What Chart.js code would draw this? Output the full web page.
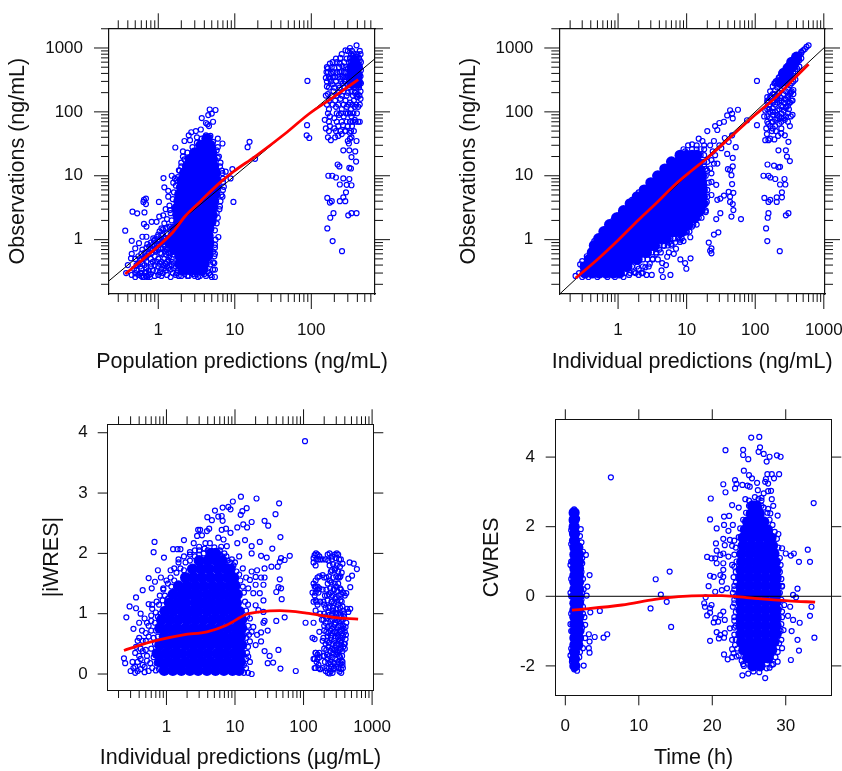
<!DOCTYPE html>
<html>
<head>
<meta charset="utf-8">
<title>Goodness of fit</title>
<script src="https://cdn.jsdelivr.net/npm/chart.js@4"></script>
<style>
  html, body { margin: 0; padding: 0; background: #fff; }
  #page { position: relative; width: 842px; height: 771px; overflow: hidden; }
  canvas { position: absolute; }
</style>
</head>
<body>
<div id="page">
  <canvas id="obsPop" width="421" height="385" style="left:0;top:0"></canvas>
  <canvas id="obsInd" width="421" height="385" style="left:421px;top:0"></canvas>
  <canvas id="iwres" width="421" height="386" style="left:0;top:385px"></canvas>
  <canvas id="cwres" width="421" height="386" style="left:421px;top:385px"></canvas>
</div>
<script>
// flat x,y lists. The *Core lists stand in for the parts
// where the circles overlap into solid blue, they are drawn as larger filled dots.
const logMajorPred = [1, 10, 100, 1000];
const logMinorPred = [0.2,0.3,0.4,0.5,0.6,0.7,0.8,0.9,2,3,4,5,6,7,8,9,20,30,40,50,60,70,80,90,200,300,400,500,600,700,800,900];
const logMajorObs = [1, 10, 100, 1000];
const logMinorObs = [0.2,0.3,0.4,0.5,0.6,0.7,0.8,0.9,2,3,4,5,6,7,8,9,20,30,40,50,60,70,80,90,200,300,400,500,600,700,800,900,2000];
const iwresTicks = [0, 1, 2, 3, 4];
const cwresTicks = [-2, 0, 2, 4];
const timeTicks = [0, 10, 20, 30];

const popCore = [
2.1,.34,2.6,.34,3.2,.34,3.8,.34,
1.9,.42,2.3,.42,2.8,.42,3.5,.42,4,.42, 1.9,.55,2.3,.55,2.8,.55,3.5,.55,4.4,.55,
1.6,.7,2,.7,2.4,.7,3,.7,3.7,.7,4.5,.7, 1.4,.9,1.75,.9,2.2,.9,2.7,.9,3.3,.9,4.1,.9,4.6,.9,
1.55,1.15,1.9,1.15,2.4,1.15,3,1.15,3.7,1.15,4.5,1.15, 1.65,1.5,2,1.5,2.5,1.5,3.1,1.5,3.8,1.5,4.6,1.5,
1.85,1.9,2.3,1.9,2.8,1.9,3.5,1.9,4.3,1.9,4.9,1.9, 1.8,2.4,2.2,2.4,2.75,2.4,3.4,2.4,4.2,2.4,5.1,2.4,
1.75,3.1,2.15,3.1,2.7,3.1,3.3,3.1,4.1,3.1,5.1,3.1, 1.85,4,2.3,4,2.8,4,3.5,4,4.3,4,5.3,4,
1.9,5.1,2.35,5.1,2.9,5.1,3.6,5.1,4.4,5.1,5.5,5.1, 2,6.6,2.45,6.6,3,6.6,3.7,6.6,4.6,6.6,5.7,6.6,
2.05,8.5,2.5,8.5,3.1,8.5,3.8,8.5,4.7,8.5,5.7,8.5, 2.2,11,2.7,11,3.3,11,4.1,11,5,11,5.6,11,
2.4,14,2.9,14,3.6,14,4.4,14,5.3,14, 2.6,18,3.2,18,3.9,18,4.8,18,5.1,18,
3,23,3.6,23,4.4,23,5,23, 3.6,30,4.3,30,4.8,30, 4.3,38,
340,280,400,280,340,380,400,380,340,500,400,500,370,620
];
const popPoints = [
.37,1.38,.46,2.74,.53,2.58,.66,2.67,.65,4.2,.69,4.4,.64,3.9,.69,3.6,1.02,3.9,.45,.96,.65,1.76,
1.17,9.2,1.2,6.6,1.35,5.8,1.35,4.7,1.5,10,1.65,9.1,1.57,7.8,1.73,8.5,1.86,12.2,1.25,3,1.42,2.9,1.16,2.4,1.03,2.3,.82,1.9,.7,1.6,.95,1.9,
.62,1.11,.7,1.11,.56,.88,.5,.73,.45,.6,.44,.51,.4,.4,.38,.3,
.5,.5,.6,.6,.7,.75,.8,.9,.9,1,1,1.2,1.1,1.5,1.2,1.8,.55,.42,.65,.5,.75,.6,.85,.7,.95,.85,1.05,1,1.15,1.2,1.25,1.5,1.3,2.1,
.9,.8,1,.7,1.1,.6,1.2,.8,1.3,.7,1.4,.55,1.5,.5,.7,.45,.8,.5,.9,.55,1,.5,1.1,.45,1.2,.5,1.3,.45,.6,.35,.7,.36,.8,.38,.9,.4,1,.38,1.1,.35,1.2,.36,1.3,.38,1.4,.4,1.5,.4,
.5,.3,.55,.28,.6,.27,.65,.26,.7,.27,.75,.28,.45,.28,.5,.26,.6,.3,.7,.31,.8,.29,.9,.27,1,.28,1.1,.27,1.3,.28,1.45,.26,1.55,.3,1.7,.28,2,.27,2.2,.29,2.5,.27,2.7,.3,3,.27,3.2,.29,3.5,.27,3.8,.3,4.2,.27,4.6,.3,5,.26,5.5,.26,
1.8,.33,2.2,.35,2.6,.33,3,.34,3.4,.33,3.9,.35,5.2,.34,5.4,.43,4.8,.41,5.4,.55,5.2,.65,
1.67,27.7,2.2,35,2.5,43,2.7,48,3.1,50,3.6,53,3.2,40,2.6,36,2.1,24,2.1,20,2,16,
3.7,80,4.5,89,4.7,109,5.6,107,5.2,70,4.4,64,4.2,67,4.6,60,5,94,4.8,42,5.2,34,6,38,
6.9,32,5.8,25,6,19,6.4,14,6.9,11,7.6,11.6,7.2,6.7,6.9,4.7,6.4,3.3,5.8,2.6,5.5,1.4,6.1,1.1,5.5,.83,5.5,.6,5.2,.44,5.5,.34,
5.6,1,5.5,.75,5.8,1.8,6,2.2,6.3,3,6.5,4,6.7,5,7,6,7,8,7,9,6.8,12,6.5,16,6.2,20,6,28,
1.3,.9,1.25,1.05,1.3,1.25,1.4,1.6,1.5,2,1.45,2.6,1.4,3.4,1.55,4.3,1.6,5.5,1.7,7,1.8,9.5,1.9,12,2,14,2.2,18,2.4,23,2.8,28,3.2,33,3.7,38,4.2,43,4.7,40,
.48,.35,.52,.4,.58,.48,.62,.42,.68,.55,.72,.65,.78,.7,.82,.62,.88,.95,.92,.65,.98,.95,1.02,.85,1.08,.75,1.12,.9,1.18,1.05,1.22,.65,1.28,.58,1.35,.48,.75,.33,.85,.33,.95,.32,1.05,.31,1.15,.3,1.25,.33,.58,.3,.52,.33,.68,.3,.62,.26,.72,.26,.78,.26,
.55,.55,.6,.5,.62,.7,.66,.62,.7,.55,.72,.85,.76,.78,.8,.72,.84,.82,.86,1.05,.9,.68,.94,.75,.96,1.1,1,.95,1.04,1.35,1.06,.62,1.1,1.15,1.15,.72,1.15,1.45,1.22,.95,1.25,.72,1.3,1.55,1.35,.62,1.35,1.05,1.4,.72,1.45,.62,1.5,.7,.8,.42,.85,.45,.95,.45,1.05,.42,1.15,.4,1.25,.42,1.35,.36,1.45,.34,1.5,.45,.58,.38,.66,.4,
1.6,.36,1.75,.3,1.85,.27,2.05,.31,2.35,.32,2.4,.27,2.85,.29,3.1,.32,3.3,.26,3.65,.31,4,.29,4.4,.32,4.8,.28,1.7,.38,
15.6,34,14.7,28,18.4,18.4,9.3,12.7,8.8,9.1,9.6,3.9,89,305,88,62,87,43,94,39,
167,10,188,10,210,9.4,262,9.1,314,8.9,262,25,314,25,221,15,233,14,314,13.3,330,13,385,16.7,335,19.6,375,24,
290,7.2,236,7.3,335,7.1,284,5.5,262,4.6,278,4,236,4,162,4.5,185,4,175,3.8,195,2.6,177,2.2,390,2.6,335,2.6,304,2.4,162,1.5,190,.95,252,.66,
390,1100,320,1000,280,920,360,820,210,680,290,680,390,730,175,570,235,570,310,600,430,640,165,480,200,490,255,520,300,470,345,760,415,560,
158,420,180,400,215,410,250,430,280,420,320,440,445,450,155,340,175,330,205,350,240,330,270,350,300,360,330,620,440,360,
160,250,190,270,225,260,260,280,295,270,445,280,165,190,195,210,230,200,265,210,300,200,335,210,370,200,405,190,440,210,
170,150,205,150,240,160,280,150,320,140,360,150,400,170,440,160,170,110,210,120,250,110,290,120,330,110,370,120,410,120,
150,75,175,85,200,80,230,90,265,85,300,95,335,85,370,75,410,70,155,55,175,60,200,55,225,60,260,62,300,60,340,60,
165,40,180,36,205,40,225,42,250,45,280,50,320,47,335,40,390,35,300,35,310,32,320,38,
300,900,340,900,430,900,250,800,330,800,400,800,440,800,240,700,320,700,370,700,420,700,190,600,215,600,270,600,360,600,395,600,445,600,
160,500,185,500,230,500,280,500,350,500,380,500,430,500,165,420,195,420,235,420,265,420,345,420,375,420,410,420,
170,350,190,350,225,350,255,350,285,350,320,350,385,350,420,350,160,300,180,300,210,300,245,300,275,300,310,300,350,300,395,300,430,300,
170,240,200,240,235,240,270,240,320,240,360,240,385,240,420,240,155,180,185,180,215,180,250,180,290,180,350,180,390,180,425,180,
160,130,190,130,225,130,265,130,305,130,345,130,385,130,430,130,165,95,215,95,245,95,285,95,320,95,355,95,395,95,
170,70,215,70,250,70,290,70,320,70,350,70,380,70,430,70,170,50,210,50,240,50,275,50,330,50,360,50
];
const popSmoothX = [.37,.64,1.16,1.57,2.23,3.5,6.4,9.6,18.4,48,91,175,410];
const popSmoothY = [.29,.5,.93,1.33,2.3,3.9,7.8,11.6,20,48,91,156,320];

const indCore = [
.33,.3,.42,.3,.53,.3,.67,.3,.85,.3,1.05,.3, .33,.38,.42,.38,.53,.38,.67,.38,.85,.38,1.1,.38,1.35,.38,
.38,.49,.48,.49,.6,.49,.76,.49,.96,.49,1.2,.49,1.5,.49,1.9,.49, .42,.63,.53,.63,.67,.63,.85,.63,1.1,.63,1.35,.63,1.7,.63,2.1,.63,2.6,.63,
.45,.81,.57,.81,.72,.81,.9,.81,1.15,.81,1.45,.81,1.85,.81,2.3,.81,2.9,.81,3.4,.81,
.52,1.04,.66,1.04,.83,1.04,1.05,1.04,1.3,1.04,1.65,1.04,2.1,1.04,2.65,1.04,3.3,1.04,4.2,1.04,5,1.04,
.62,1.34,.78,1.34,1,1.34,1.25,1.34,1.6,1.34,2,1.34,2.5,1.34,3.2,1.34,4,1.34,5,1.34,6,1.34,7,1.34,8.5,1.34,
.75,1.72,.95,1.72,1.2,1.72,1.5,1.72,1.9,1.72,2.4,1.72,3,1.72,3.8,1.72,4.8,1.72,6,1.72,7.2,1.72,8.8,1.72,10.5,1.72,
.95,2.2,1.2,2.2,1.5,2.2,1.9,2.2,2.4,2.2,3,2.2,3.8,2.2,4.8,2.2,6,2.2,7.6,2.2,9,2.2,11,2.2,13,2.2,
1.2,2.85,1.5,2.85,1.9,2.85,2.4,2.85,3,2.85,3.8,2.85,4.8,2.85,6,2.85,7.6,2.85,9.5,2.85,11,2.85,13,2.85,15.5,2.85,
1.5,3.65,1.9,3.65,2.4,3.65,3,3.65,3.8,3.65,4.8,3.65,6,3.65,7.6,3.65,9.5,3.65,11.5,3.65,14,3.65,17,3.65,
1.9,4.7,2.4,4.7,3,4.7,3.8,4.7,4.8,4.7,6,4.7,7.6,4.7,9.5,4.7,12,4.7,15,4.7,17,4.7, 2.4,6,3,6,3.8,6,4.8,6,6,6,7.6,6,9.5,6,12,6,15,6,17,6,
3,7.8,3.8,7.8,4.8,7.8,6,7.8,7.6,7.8,9.5,7.8,12,7.8,14,7.8,16.5,7.8, 3.8,10,4.8,10,6,10,7.6,10,9.5,10,12,10,14,10,16.5,10,
4.8,12.8,6,12.8,7.6,12.8,9.5,12.8,12,12.8,15,12.8, 6,16.5,7.6,16.5,9.5,16.5,12,16.5,14,16.5, 8,21,10,21,12,21,14,21,
230,290,270,320,260,400,300,380,300,480,340,500,340,600,380,620,400,720
];
const indPoints = [
106,305,76,74,106,62,43,106,56,108,46,94,39,88,47,79,35,70,30,67,26,60,28,52,20,50,46,43,36,39,41,34,52,28,39,22,47,19,47,14,40,12.7,43,12.3,45,10.2,46,7.4,41,5.6,48,5.4,35,4.9,31,4.4,28,4.2,43,4.7,43,3.9,47,3.6,48,2.9,45,2.3,62,2.1,31,2.6,27,2.1,29,1.3,25,1.2,21,.9,23,.73,22,.67,23,.61,
11.4,.51,8.1,.49,9.5,.43,9.9,.35,5.8,.28,4.5,.26,4.3,.33,5.2,.54,5.5,.63,4.4,.43,3.1,.28,2.6,.28,2,.28,
11.3,1.09,12,1.6,10.7,1.9,19,2.7,16,3.3,19.7,3.9,23,5,27,7.2,23,8,23,10.9,25,15.5,23,17.6,28,15.5,26,21,32,27,17.7,8.5,
20,12,18,14,22,13,16,5,14,4,15,2.5,18,3.5,24,24,30,30,22,30,25,35,18,30,
151,15,188,14.4,218,13.6,230,13.8,132,10,156,10,166,9.4,196,8.9,267,8.9,275,7.3,230,7.3,245,5.5,245,4.6,206,4.6,206,3.9,156,3.9,136,4.5,166,4.2,305,2.6,280,2.4,156,2.6,152,2.2,144,1.5,150,.95,228,.66,
320,17,290,20,280,25,218,25,305,34,270,43,156,36,140,36,148,45,165,38,190,37,215,42,240,46,175,50,200,50,145,55,155,65,175,70,135,85,140,105,160,110,180,100,210,90,240,80,270,75,300,70,320,60,330,85,350,90,310,110,280,120,250,120,
150,150,170,170,190,190,210,160,240,150,270,160,300,180,330,200,350,150,320,140,360,190,160,130,180,140,
190,280,200,300,220,340,240,400,250,430,280,480,300,530,330,440,360,570,380,520,420,680,440,780,470,870,500,920,530,960,560,1040,600,1100,
150,170,150,140,150,110,150,85,150,70,165,210,165,170,165,130,165,100,165,80,165,60,180,250,180,190,180,150,180,115,180,90,180,70,180,55,
195,280,195,220,195,170,195,130,195,100,195,75,195,60,210,310,210,240,210,180,210,140,210,105,210,80,225,350,225,270,225,200,225,150,225,110,225,85,225,65,
240,380,240,300,240,220,240,165,240,125,240,95,240,70,240,55,260,430,260,330,260,250,260,190,260,140,260,105,260,80,280,470,280,370,280,280,280,210,280,155,280,115,280,85,
300,520,300,400,300,310,300,230,300,170,300,125,300,95,320,560,320,440,320,340,320,260,320,190,320,140,340,610,340,480,340,370,340,280,340,210,340,150,
360,650,360,520,360,400,360,300,360,220,385,700,385,550,385,430,385,320,410,740,410,590,410,470,440,790,440,640,440,510,470,830,470,690,
1.25,.3,1.5,.3,1.8,.3,2.2,.3,1.6,.38,1.9,.38,2.3,.38,2.8,.38,2.3,.49,2.7,.49,3.2,.49,3.8,.49,3.1,.63,3.6,.63,4.2,.63,4,.81,4.6,.81,5.3,.81,6,.81,5.8,1.04,6.6,1.04,7.5,1.04,8.5,1.04,
10,1.34,11,1.34,12.5,1.72,14,1.72,15,2.2,16.5,2.2,17,2.85,19,2.85,19,3.65,20,4.7,20,6,21,7.8,19,10,17,12.8,19,12.8,16,16.5,18,16.5,20,16.5,16,21,18,21,12,26,14,26,16,26,18,26,
.45,.95,.65,1.45,.85,2,1.1,2.6,1.4,3.3,1.7,4.2,2.2,5.3,2.7,6.6,3.4,8.5,4.2,10.5,5.2,13,6.5,16,8,20,9.5,24,
.24,.27,.27,.3,.28,.41,.3,.46,.3,.26,.37,.26,.5,.26,.7,.26,.9,.26,1.2,.26,1.45,.28,1.7,.31,2,.35,2.3,.3,2.5,.37,2.9,.42,3.2,.5,3.6,.6,4,.7,4.7,.8,5.5,.9,6,.86,6.8,.9,8,.92,9,.95,10,1.3,
.35,.55,.42,.6,.5,.8,.55,1.1,.7,1.3,.9,2,1,2.4,1.3,3,1.6,4.2,2,5.5,3,8,3.5,10,4.5,13,6,17,7.5,21,9,26,10.5,30,12,31,14,30,17,35,15,38,
7,1.4,8,1.3,9,1.5,8,1,7,.72,6.5,.6,5,.4,12,2.1,13,2.5,14,3.3,15,4,16,5,17,6,18,7,15,9,16,10,17,11
];
const indSmoothX = [.24,.5,1,2,3.5,7,12,20,50,100,200,400,600];
const indSmoothY = [.25,.49,.98,2.05,3.6,7.5,12.2,19,46,90,170,360,555];

const iwresCore = [
.93,.06,1.24,.06,1.65,.06,2.2,.06,2.9,.06,3.9,.06,5.2,.06,6.9,.06,9.2,.06,11.5,.06,
.8,.2,1.06,.2,1.4,.2,1.9,.2,2.5,.2,3.3,.2,4.4,.2,5.9,.2,7.8,.2,10.4,.2,12,.2,
.73,.34,.97,.34,1.3,.34,1.7,.34,2.3,.34,3,.34,4,.34,5.4,.34,7.1,.34,9.5,.34,12,.34,
.8,.48,1.06,.48,1.4,.48,1.9,.48,2.5,.48,3.3,.48,4.4,.48,5.9,.48,7.8,.48,10.4,.48,12.5,.48,
.93,.62,1.24,.62,1.65,.62,2.2,.62,2.9,.62,3.9,.62,5.2,.62,6.9,.62,9.2,.62,12,.62,
.8,.76,1.06,.76,1.4,.76,1.9,.76,2.5,.76,3.3,.76,4.4,.76,5.9,.76,7.8,.76,10.4,.76,12.5,.76,
.85,.9,1.13,.9,1.5,.9,2,.9,2.65,.9,3.5,.9,4.7,.9,6.2,.9,8.3,.9,11,.9,12.5,.9,
.95,1.04,1.26,1.04,1.7,1.04,2.2,1.04,2.9,1.04,3.9,1.04,5.2,1.04,6.9,1.04,9.2,1.04,11.5,1.04,
1.1,1.18,1.45,1.18,1.9,1.18,2.6,1.18,3.4,1.18,4.5,1.18,6,1.18,8,1.18,10.5,1.18,
1.25,1.32,1.66,1.32,2.2,1.32,2.9,1.32,3.9,1.32,5.2,1.32,6.9,1.32,9.2,1.32,10.8,1.32,
1.5,1.46,2,1.46,2.65,1.46,3.5,1.46,4.7,1.46,6.2,1.46,8.3,1.46,10,1.46,
1.9,1.6,2.5,1.6,3.3,1.6,4.4,1.6,5.9,1.6,7.8,1.6,9.5,1.6, 2.4,1.74,3.2,1.74,4.2,1.74,5.6,1.74,7.4,1.74,8.5,1.74,
3,1.88,4,1.88,5.3,1.88,6.5,1.88, 4.5,2,5.2,2
];
const iwresPoints = [
105,3.86,12.2,2.94,20.6,2.91,9.3,2.86,44,2.83,8,2.77,8.6,2.73,14.8,2.75,6.6,2.76,5.1,2.71,12.8,2.7,12.1,2.64,39,2.65,6.4,2.62,5.7,2.61,3.95,2.6,4.6,2.55,6.6,2.54,17.5,2.52,27,2.54,30.5,2.46,13.2,2.48,15,2.43,10.8,2.43,4.2,2.41,2.9,2.39,3.1,2.39,6.4,2.39,7.4,2.41,8.6,2.34,2.8,2.29,3.3,2.3,3.9,2.37,5.7,2.26,6.8,2.23,46,2.27,14,2.22,1.8,2.22,.67,2.19,23,2.19,2.5,2.17,3.7,2.17,4.3,2.17,10.8,2.17,17.5,2.12,3,2.11,6.3,2.11,7.6,2.12,1.6,2.07,1.25,2.07,1.45,2.07,35,2.08,.65,2.02,17.5,2,24,1.96,63,1.96,.92,1.93,29,1.93,47,1.92,53,1.89,45,1.86,42,1.78,34,1.78,27,1.75,.75,1.72,.55,1.59,.83,1.6,.68,1.53,.61,1.42,.45,1.39,.36,1.27,.29,1.12,.55,1.16,.36,1.09,.26,.94,.33,.75,.24,.26,.25,.18,
45,1.57,43,1.44,47,1.42,48,1.24,40,1.36,26,1.22,26,1.48,18.5,1.34,23,1.34,20,1.48,24,1.6,27,1.6,20,1.61,17.5,1.7,21,1.72,16.5,1.56,15.6,1.42,20,1.14,22,1.06,26,1.03,53,.94,40,.88,107,.85,30,.72,26,.85,27,.88,24,.69,18.5,.78,21,.65,24,.54,20,.48,27,.38,32,.3,43,.4,36,.19,30,.18,46,.09,77,.05,17.5,0,16.5,.2,15.6,.29,16.5,.54,17.5,.7,16.5,.92,
.3,.05,.33,.1,.35,.02,.38,.2,.4,.3,.42,.08,.45,.15,.48,.03,.5,.4,.52,.22,.36,.45,.4,.6,.44,.72,.4,.85,.42,1,.48,.92,.5,.55,.55,.8,.6,.97,.62,1.08,.72,1.2,.8,1.3,.9,1.4,1,1.55,1.15,1.6,1.3,1.75,1.5,1.9,1.8,1.95,2.2,2.02,2.6,2.05,3,2.05,3.6,2.08,6,1.98,7.5,1.95,9,1.9,10,1.85,11.5,1.95,13,1.75,14.5,1.6,15.5,1.15,15,.7,15.5,.45,14.5,.1,15.5,.02,13.5,.02,
.32,.2,.35,.12,.38,.05,.42,.25,.45,.38,.48,.12,.52,.3,.55,.05,.58,.18,.6,.42,.62,.1,.65,.28,.68,.5,.7,.06,.72,.18,.75,.35,.78,.08,.8,.25,.55,.62,.6,.72,.65,.6,.7,.72,.75,.62,.5,.68,.45,.55,.42,.42,.38,.55,.35,.35,.52,.85,.6,.88,.68,.85,.75,.95,.82,1,.7,1.02,.62,1.15,.78,1.15,.88,1.22,.95,1.3,1.05,1.25,.9,1.42,1.05,1.5,1.18,1.45,1.3,1.55,1.15,1.72,1.4,1.68,1.6,1.75,1.8,1.72,1.5,1.85,1.9,1.85,2.2,1.88,2.6,1.95,2.2,1.98,3,1.98,3.5,2,4,2.05,5,2.1,6,2.05,6.5,1.95,7,2,7.8,1.88,8.5,1.85,9.5,1.8,10.5,1.7,11.5,1.65,12,1.55,13,1.45,13.5,1.35,14,1.2,14.5,1.05,15,.95,15.5,.8,16,.65,14.5,.6,15,.35,14.5,.25,13.5,.15,
470,1.85,540,1.83,600,1.74,510,1.63,450,1.58,480,1.44,420,1.34,450,1.03,480,1.08,
140,1.92,145,1.97,152,2,160,1.98,165,1.9,140,1.85,155,1.9,170,1.95,190,1.9,210,1.9,225,1.98,240,2,260,1.95,285,1.98,305,2,320,1.98,350,1.9,370,1.83,
160,1.6,170,1.62,190,1.64,215,1.6,240,1.55,260,1.72,290,1.75,320,1.6,345,1.62,300,1.45,140,1.5,150,1.45,170,1.42,190,1.4,220,1.3,250,1.35,280,1.4,340,1.42,380,1.35,
145,1.3,150,1.22,160,1.15,175,1.2,200,1.15,230,1.1,260,1.2,290,1.25,320,1.15,360,1.2,400,1.3,430,1.08,150,1.05,175,1,210,.95,240,.98,270,1.05,300,1,340,1.02,380,1.05,
185,.9,210,.85,235,.8,265,.9,295,.85,325,.8,355,.9,390,.95,420,.85,170,.7,200,.72,230,.68,260,.75,290,.7,320,.65,350,.72,385,.75,415,.65,
135,.6,145,.58,190,.55,220,.55,250,.6,280,.55,310,.5,340,.55,370,.6,400,.5,200,.42,230,.45,260,.42,290,.4,320,.38,350,.42,380,.45,
150,.35,160,.32,170,.28,145,.25,155,.2,165,.15,145,.1,175,.08,200,.3,225,.25,245,.2,265,.28,290,.25,320,.2,340,.28,360,.22,375,.1,
190,.1,210,.05,225,.02,240,.01,250,.05,265,.02,280,.1,300,.12,335,.04,355,.02,370,.15,
215,.1,235,.1,255,.12,275,.08,325,.1,350,.08,205,.2,230,.18,250,.16,280,.18,310,.16,345,.18,370,.2,195,.3,220,.32,240,.3,270,.34,300,.32,330,.3,365,.3,
215,.4,245,.38,275,.4,305,.36,335,.4,370,.38,400,.42,210,.5,235,.52,265,.5,295,.48,325,.5,355,.52,390,.5,195,.6,225,.62,255,.64,285,.6,315,.62,345,.6,375,.64,410,.58,
215,.7,245,.72,275,.7,305,.68,340,.7,365,.74,400,.7,200,.8,225,.78,255,.8,285,.82,315,.78,345,.8,380,.8,410,.78,195,.9,220,.92,250,.9,280,.92,310,.9,335,.88,375,.9,
200,1,230,1.02,260,1,290,1.02,320,1,350,.98,390,1,210,1.1,240,1.12,270,1.1,300,1.08,340,1.1,370,1.12,195,1.2,225,1.22,255,1.2,280,1.18,310,1.2,345,1.22,
205,1.3,235,1.32,265,1.3,295,1.28,325,1.3,355,1.32,160,1.4,215,1.4,245,1.42,275,1.4,310,1.38,350,1.4,225,1.5,255,1.52,285,1.5,320,1.5,
200,1.6,235,1.62,270,1.6,300,1.62,335,1.6,250,1.7,285,1.72,320,1.7,360,1.68,150,1.8,240,1.8,270,1.82,305,1.8,340,1.78,175,1.9,230,1.88,260,1.9,295,1.92,330,1.9,
150,.1,165,.1,140,.25,160,.25,150,.35,170,.35,140,.85,140,1.2,155,1.2,135,1.35,150,1.35,165,1.35,145,1.45,160,1.45,150,1.55
];
const iwresSmoothX = [.24,.41,.8,1.77,3.9,7.5,14.8,23,45,110,270,625];
const iwresSmoothY = [.39,.48,.57,.65,.7,.81,.99,1.03,1.05,1.01,.94,.91];

const cwresCore = [
1.2,2.4,1.2,2.2,1.2,2,1.25,1.8,1.25,1.6,1.3,1.4,1.3,1.2,1.3,1,1.3,.8,1.3,.6,1.3,.4,1.3,.2,1.3,0,1.3,-.2,1.3,-.4,1.3,-.6,1.3,-.8,1.3,-1,1.3,-1.2,1.3,-1.4,1.25,-1.6,1.25,-1.8,1.3,-2,
1.7,1.4,1.8,1.2,1.8,1,1.8,.8,1.8,.6,1.8,.4,1.8,.2,1.8,0,1.8,-.2,1.8,-.4,1.8,-.6,1.8,-.8,1.8,-1,1.8,-1.2,1.7,-1.4,
25.5,2.6,26,2.6,25.3,2.37,26.4,2.37,24.8,2.14,25.9,2.14,27,2.14,24.5,1.91,25.6,1.91,26.7,1.91,27.5,1.91,
24.2,1.68,25.3,1.68,26.4,1.68,27.5,1.68,28,1.68,24.2,1.45,25.3,1.45,26.4,1.45,27.5,1.45,28.2,1.45,
24,1.22,25.1,1.22,26.2,1.22,27.3,1.22,28.4,1.22,24,.99,25,.99,26,.99,27,.99,28,.99,28.6,.99,
23.9,.76,25,.76,26.1,.76,27.2,.76,28.3,.76,28.7,.76, 23.9,.53,25,.53,26.1,.53,27.2,.53,28.3,.53,28.7,.53,
23.9,.3,25,.3,26.1,.3,27.2,.3,28.3,.3,28.7,.3, 23.9,.07,25,.07,26.1,.07,27.2,.07,28.3,.07,28.7,.07,
23.9,-.16,25,-.16,26.1,-.16,27.2,-.16,28.3,-.16,28.7,-.16, 23.9,-.39,25,-.39,26.1,-.39,27.2,-.39,28.3,-.39,28.7,-.39,
23.9,-.62,25,-.62,26.1,-.62,27.2,-.62,28.3,-.62,28.7,-.62, 23.9,-.85,25,-.85,26.1,-.85,27.2,-.85,28.3,-.85,28.7,-.85,
23.9,-1.08,25,-1.08,26.1,-1.08,27.2,-1.08,28.3,-1.08,28.7,-1.08, 24,-1.31,25.1,-1.31,26.2,-1.31,27.3,-1.31,28.4,-1.31,
24.3,-1.54,25.4,-1.54,26.5,-1.54,27.6,-1.54,28.1,-1.54, 24.8,-1.77,25.9,-1.77,27,-1.77,27.6,-1.77, 25.5,-2,26.5,-2
];
const cwresPoints = [
6.2,3.42,33.8,2.68,25.3,4.56,26.4,4.58,26.5,4.28,21.8,4.2,24.2,4.21,26.3,4.15,27,4.09,24.2,4.06,24.9,3.94,27.8,4.01,28.8,4.05,29.3,4.01,27.4,3.87,
24.3,3.61,25,3.48,25.4,3.39,27.5,3.51,28.1,3.51,29.1,3.51,28.4,3.39,27.3,3.37,26.1,3.26,27.2,3.29,27.6,3.24,23.1,3.34,21.5,3.22,23.3,3.23,24.1,3.2,24.8,3.18,25.1,3.15,23.1,3.1,26.2,3.05,27.6,3.02,28,3.03,21.8,2.99,27,2.96,19.8,2.81,24.5,2.79,28.1,2.79,26.7,2.83,22.7,2.62,23.6,2.55,28.3,2.6,27.6,2.51,26.7,2.6,28.9,2.32,27.9,2.38,
19.7,2.21,21.6,2.29,22.3,2.31,20.6,1.95,21.6,2.05,22.8,2.05,22.2,1.88,29,1.79,21.5,1.65,22.4,1.62,20.5,1.52,21.7,1.47,22.7,1.45,20.6,1.31,29.5,1.38,30,1.23,31.1,1.23,30.7,1.17,33,1.34,33.3,.99,31.8,.99,19.3,1.13,19.9,1.09,20.4,1.09,21.1,1.19,21.5,1.23,22.2,1.14,20.6,.95,21.5,.95,22.7,.9,21.5,.76,21.1,.61,19.7,.59,20.2,.56,21.5,.56,21.3,.42,19.5,.29,20.4,.13,21.3,.18,22,.23,29.5,.28,31.6,.22,31,.04,31.4,-.03,
19.1,-.03,18.9,-.2,19,-.3,19.7,-.34,19.9,-.25,19.3,-.55,19.7,-.47,20.4,-.63,20.2,-.75,20.8,-.73,21.5,-.44,21.1,-.54,21.7,-.68,20.6,-1.03,21.1,-1.11,20.9,-1.21,21.7,-1.06,22.4,-.92,21.6,-1.19,19.7,-1.28,22.7,-1.25,21.6,-1.67,22.1,-1.81,22.7,-1.52,22.9,-1.64,22.7,-1.75,23.3,-1.73,24.2,-1.95,24.1,-2.27,24.9,-2.22,25.6,-2.16,26.4,-2.18,27.2,-2.35,27.4,-2.07,28.1,-1.97,28.9,-1.88,29.5,-1.49,29.4,-1.25,29.7,-.97,29.5,-.44,29.8,-.25,
30.6,-.3,30.3,-.56,31,-.68,31.9,-.76,30.8,-1,31.6,-1.25,31.8,-1.56,30.7,-1.83,33.3,-.56,33.5,-.3,33.9,-1.19,
12.3,.49,14.2,.71,13,.05,13.8,-.16,11.6,-.35,14.4,-.88,
3.4,-.46,4.7,-.42,5.7,-1.09,5.2,-1.19,4,-1.17,3.2,-1.09,3.3,-1.3,3.2,-1.49,3.3,-1.62,2.5,-1.99,3.3,.61,3,.28,2.9,.02,2.8,1.19,2.4,1.28,2.1,1.93,2,1.73,1.6,2.23,.9,2.16,2.3,.95,2.7,-.82,2.7,-1.2,2.4,-1.49,1.6,-2.14,.9,-1.88,
2.4,.5,2.5,.2,2.4,-.3,2.6,-.6,2.3,1.1,2.2,-1,.8,1.9,.8,1.5,.8,1,.8,.5,.8,0,.8,-.5,.8,-1,.8,-1.5,
23,.3,22.8,.1,23,-.1,22.8,-.3,23,-.6,23,-.9,23,1.6,23.1,-1.4,
23.2,1.4,23,1.2,23.3,1,23,.85,23.2,.7,22.9,.55,23.2,.4,23,.2,23.2,0,23,-.2,23.2,-.45,23,-.7,23.2,-.85,23,-1.1,23.2,-1.25,23.4,-1.5,23.6,-1.7,24,-1.85,24.3,-2,23.6,1.7,23.8,1.95,24.2,2.2,24.6,2.4,25,2.6,
29.2,1.1,29.3,.9,29.2,.7,29.4,.5,29.5,.3,29.2,.1,29.4,-.1,29.2,-.3,29.5,-.6,29.4,-.8,29.3,-1,29.1,-1.35,28.9,-1.6,28.6,-1.75,28.3,-1.95,27.8,-2.05,29,1.4,28.8,1.65,28.5,1.85,28.2,2.05,27.8,2.2,27.5,2.4,27,2.55,26.7,2.75,25.8,2.85,25,2.75,26.3,2.8,
1,2.45,1.2,2.5,1.05,2.3,1.4,2.35,.7,.1,.7,.9,.7,-.8,.7,-1.7,2.2,.7,2.3,.1,2.2,-.1,2.3,-.9,2.4,-.5,2.2,1.55,2,-1.6,1.9,-1.75,1.2,-2.1
];
const cwresSmoothX = [.9,7.7,12.2,15.4,19,21.3,25.8,30.4,34];
const cwresSmoothY = [-.4,-.25,-.09,-.01,.02,.02,-.06,-.13,-.17];

function toPoints(flat) {
  const points = [];
  for (let i = 0; i < flat.length; i += 2) {
    points.push({ x: flat[i], y: flat[i + 1] });
  }
  return points;
}

function zipPoints(xs, ys) {
  return xs.map((x, i) => ({ x: x, y: ys[i] }));
}

// lattice style ticks outside the box, on all four sides
const latticeTicks = {
  id: 'latticeTicks',
  afterDraw(chart, args, opts) {
    const ctx = chart.ctx;
    const area = chart.chartArea;
    const mark = (values, len, horizontal) => {
      values.forEach((v) => {
        const scale = horizontal ? chart.scales.x : chart.scales.y;
        if (v < scale.min || v > scale.max) return;
        const p = scale.getPixelForValue(v);
        ctx.beginPath();
        if (horizontal) {
          ctx.moveTo(p, area.top); ctx.lineTo(p, area.top - len);
          ctx.moveTo(p, area.bottom); ctx.lineTo(p, area.bottom + len);
        } else {
          ctx.moveTo(area.left, p); ctx.lineTo(area.left - len, p);
          ctx.moveTo(area.right, p); ctx.lineTo(area.right + len, p);
        }
        ctx.stroke();
      });
    };
    ctx.save();
    ctx.strokeStyle = '#111';
    ctx.lineWidth = 1;
    mark(opts.xMajor, opts.xMajorLen, true);
    mark(opts.xMinor, 8, true);
    mark(opts.yMajor, opts.yMajorLen, false);
    mark(opts.yMinor, 8, false);
    ctx.restore();
  },
};

const FONT = '"Liberation Sans", Arial, sans-serif';
const TITLE_SIZE = 21.5;

function axis(cfg, position, size, showLabels, ticks, padding, title, titleOffset) {
  const horizontal = position === 'top' || position === 'bottom';
  const log = horizontal ? cfg.xLog : cfg.yLog;
  const range = horizontal ? cfg.xRange : cfg.yRange;
  return {
    type: log ? 'logarithmic' : 'linear',
    position: position,
    min: range[0],
    max: range[1],
    bounds: 'data',
    grid: { drawOnChartArea: false, drawTicks: false },
    border: { display: true, color: '#111', width: cfg.boxWidth },
    ticks: {
      display: showLabels,
      autoSkip: false,
      maxRotation: 0,
      minRotation: 0,
      padding: padding,
      color: '#111',
      font: { family: FONT, size: 17 },
      callback: (v) => String(v),
    },
    title: title ? {
      display: true,
      text: title,
      color: '#111',
      font: { family: FONT, size: TITLE_SIZE, lineHeight: 1 },
      padding: horizontal
        ? { top: 0, bottom: titleOffset - TITLE_SIZE / 2 }
        : { top: titleOffset - TITLE_SIZE / 2, bottom: 0 },
    } : { display: false },
    afterBuildTicks(scale) {
      scale.ticks = ticks.map((v) => ({ value: v }));
    },
    afterFit(scale) {
      if (horizontal) scale.height = size;
      else scale.width = size;
      // labels may overflow, the box must not move for them
      scale.paddingLeft = 0;
      scale.paddingRight = 0;
      scale.paddingTop = 0;
      scale.paddingBottom = 0;
      // the x titles are wider than the box, chart.js would squeeze them to fit
      if (horizontal && !scale.wideTitle) {
        const drawTitle = scale.drawTitle;
        scale.wideTitle = true;
        scale.drawTitle = function () {
          this.left -= 60;
          this.right += 60;
          drawTitle.call(this);
          this.left += 60;
          this.right -= 60;
        };
      }
    },
  };
}

function makePanel(id, cfg) {
  new Chart(document.getElementById(id), {
    type: 'scatter',
    data: {
      datasets: [
        {
          label: 'smooth',
          data: zipPoints(cfg.smoothX, cfg.smoothY),
          showLine: true,
          cubicInterpolationMode: 'monotone',
          borderColor: '#ff0000',
          borderWidth: 2.8,
          pointRadius: 0,
          order: 0,
        },
        {
          label: 'reference',
          data: cfg.refLine,
          showLine: true,
          borderColor: '#000',
          borderWidth: 1,
          pointRadius: 0,
          order: 1,
        },
        {
          label: 'observations',
          data: toPoints(cfg.points),
          pointStyle: 'circle',
          pointRadius: 2.5,
          pointBorderWidth: 1.2,
          pointBorderColor: '#0000ff',
          pointBackgroundColor: 'rgba(0,0,0,0)',
          order: 2,
        },
        {
          label: 'observations, overlapped',
          data: toPoints(cfg.core),
          pointStyle: 'circle',
          pointRadius: cfg.coreRadius,
          pointBorderWidth: 0,
          pointBackgroundColor: '#0000ff',
          order: 3,
        },
      ],
    },
    options: {
      responsive: false,
      animation: false,
      events: [],
      layout: { padding: 0 },
      plugins: {
        legend: { display: false },
        tooltip: { enabled: false },
        latticeTicks: {
          xMajor: cfg.xMajor,
          xMinor: cfg.xMinor,
          yMajor: cfg.yMajor,
          yMinor: cfg.yMinor,
          xMajorLen: cfg.xMajorLen,
          yMajorLen: cfg.yMajorLen,
        },
      },
      scales: {
        x: axis(cfg, 'bottom', cfg.box.bottom, true, cfg.xMajor, cfg.xPad, cfg.xTitle, cfg.xTitleOffset),
        y: axis(cfg, 'left', cfg.box.left, true, cfg.yMajor, cfg.yPad, cfg.yTitle, cfg.yTitleOffset),
        xTop: axis(cfg, 'top', cfg.box.top, false, cfg.xMajor, 0),
        yRight: axis(cfg, 'right', cfg.box.right, false, cfg.yMajor, 0),
      },
    },
    plugins: [latticeTicks],
  });
}

makePanel('obsPop', {
  box: { left: 109, top: 28.3, right: 46, bottom: 91 },
  xLog: true, yLog: true,
  xRange: [0.227, 680], yRange: [0.141, 2033],
  xMajor: logMajorPred.slice(0, 3), xMinor: logMinorPred, yMajor: logMajorObs, yMinor: logMinorObs,
  xMajorLen: 15, yMajorLen: 15, boxWidth: 1.2,
  xTitle: 'Population predictions (ng/mL)', yTitle: 'Observations (ng/mL)',
  xPad: 26, yPad: 26, xTitleOffset: 23, yTitleOffset: 18,
  core: popCore, coreRadius: 5.5, points: popPoints,
  smoothX: popSmoothX, smoothY: popSmoothY,
  refLine: [{ x: 0.227, y: 0.227 }, { x: 680, y: 680 }],
});

makePanel('obsInd', {
  box: { left: 138.3, top: 28.3, right: 17, bottom: 91 },
  xLog: true, yLog: true,
  xRange: [0.139, 1041], yRange: [0.141, 2033],
  xMajor: logMajorPred, xMinor: logMinorPred, yMajor: logMajorObs, yMinor: logMinorObs,
  xMajorLen: 15, yMajorLen: 15, boxWidth: 1.2,
  xTitle: 'Individual predictions (ng/mL)', yTitle: 'Observations (ng/mL)',
  xPad: 26, yPad: 26, xTitleOffset: 23, yTitleOffset: 47.7,
  core: indCore, coreRadius: 5.5, points: indPoints,
  smoothX: indSmoothX, smoothY: indSmoothY,
  refLine: [{ x: 0.139, y: 0.139 }, { x: 1041, y: 1041 }],
});

makePanel('iwres', {
  box: { left: 107.7, top: 39.3, right: 47.7, bottom: 81 },
  xLog: true, yLog: false,
  xRange: [0.139, 1041], yRange: [-0.265, 4.14],
  xMajor: logMajorPred, xMinor: logMinorPred, yMajor: iwresTicks, yMinor: [],
  xMajorLen: 15, yMajorLen: 10, boxWidth: 1,
  xTitle: 'Individual predictions (µg/mL)', yTitle: '|iWRES|',
  xPad: 27, yPad: 20, xTitleOffset: 13.3, yTitleOffset: 52,
  core: iwresCore, coreRadius: 5.6, points: iwresPoints,
  smoothX: iwresSmoothX, smoothY: iwresSmoothY,
  refLine: [],
});

makePanel('cwres', {
  box: { left: 134.7, top: 34.3, right: 10.7, bottom: 75.7 },
  xLog: false, yLog: false,
  xRange: [-1.31, 36.2], yRange: [-2.845, 5.086],
  xMajor: timeTicks, xMinor: [], yMajor: cwresTicks, yMinor: [],
  xMajorLen: 10, yMajorLen: 10, boxWidth: 1,
  xTitle: 'Time (h)', yTitle: 'CWRES',
  xPad: 21, yPad: 20.7, xTitleOffset: 13.3, yTitleOffset: 71,
  core: cwresCore, coreRadius: 5.6, points: cwresPoints,
  smoothX: cwresSmoothX, smoothY: cwresSmoothY,
  refLine: [{ x: -1.31, y: 0 }, { x: 36.2, y: 0 }],
});
</script>
</body>
</html>
